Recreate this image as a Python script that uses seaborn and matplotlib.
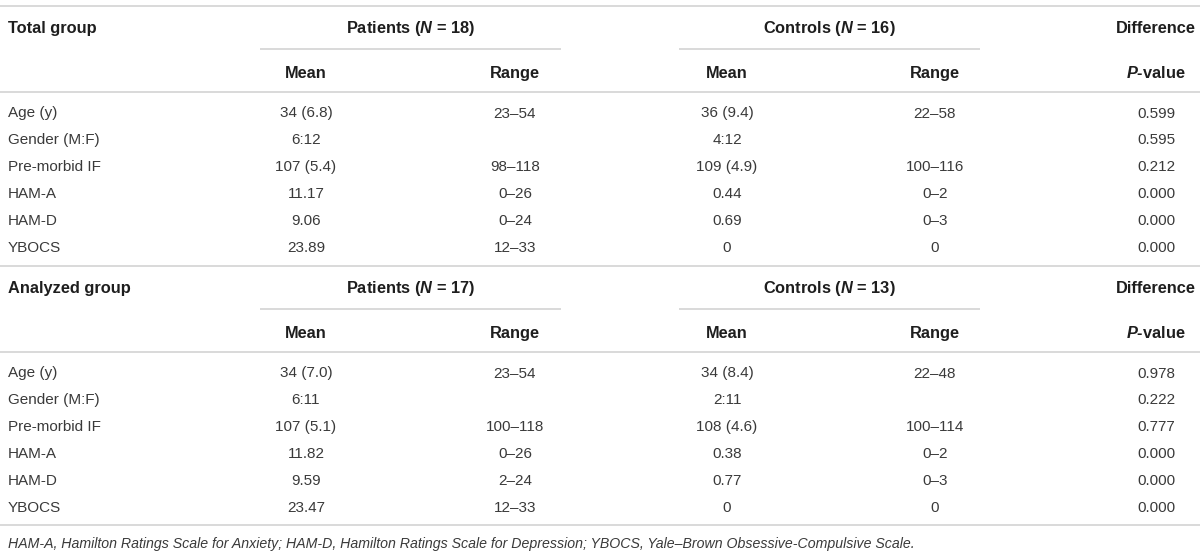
import matplotlib
matplotlib.use("Agg")
import matplotlib.pyplot as plt
import seaborn as sns
import pandas as pd

row_labels = ["Age (y)", "Gender (M:F)", "Pre-morbid IF", "HAM-A", "HAM-D", "YBOCS"]

# Total group
total_pat_n = 18
total_con_n = 16
total_pat_mean = ["34 (6.8)", "6:12", "107 (5.4)", "11.17", "9.06", "23.89"]
total_pat_range = ["23–54", "", "98–118", "0–26", "0–24", "12–33"]
total_con_mean = ["36 (9.4)", "4:12", "109 (4.9)", "0.44", "0.69", "0"]
total_con_range = ["22–58", "", "100–116", "0–2", "0–3", "0"]
total_p = ["0.599", "0.595", "0.212", "0.000", "0.000", "0.000"]

# Analyzed group
anal_pat_n = 17
anal_con_n = 13
anal_pat_mean = ["34 (7.0)", "6:11", "107 (5.1)", "11.82", "9.59", "23.47"]
anal_pat_range = ["23–54", "", "100–118", "0–26", "2–24", "12–33"]
anal_con_mean = ["34 (8.4)", "2:11", "108 (4.6)", "0.38", "0.77", "0"]
anal_con_range = ["22–48", "", "100–114", "0–2", "0–3", "0"]
anal_p = ["0.978", "0.222", "0.777", "0.000", "0.000", "0.000"]

footnote = ("HAM-A, Hamilton Ratings Scale for Anxiety; HAM-D, Hamilton Ratings Scale "
            "for Depression; YBOCS, Yale–Brown Obsessive-Compulsive Scale.")

sns.set_theme(style="white")
plt.rcParams["font.family"] = ["Liberation Sans", "DejaVu Sans"]
plt.rcParams["mathtext.fontset"] = "custom"
plt.rcParams["mathtext.it"] = "Liberation Sans:italic:bold"
plt.rcParams["mathtext.rm"] = "Liberation Sans:bold"

LINE = "#d9d9d9"
HEAD = "#1e1e1e"
BODY = "#3a3a3a"
BODY_FS = 11
HEAD_FS = 11.8
NOTE_FS = 10.2
BODY_OFF = 5.5   # centre -> baseline, pixels
HEAD_OFF = 5.9

# column centres (pixels)
col_x = {"pm": 306, "pr": 515, "cm": 727, "cr": 935, "p": 1156}


def head(ax, x, y, s, ha="center"):
    ax.text(x, y + HEAD_OFF, s, ha=ha, va="baseline", fontsize=HEAD_FS,
            fontweight="bold", color=HEAD)


def draw_section(ax, top, title, pat_n, con_n, pm, pr, cm, cr, pv, rule_bottom):
    hy = top + 22
    head(ax, 8, hy, title, ha="left")
    head(ax, (260 + 561) / 2, hy, f"Patients ($N$ = {pat_n})")
    head(ax, (679 + 980) / 2, hy, f"Controls ($N$ = {con_n})")
    head(ax, col_x["p"], hy, "Difference")
    ax.hlines(top + 44, 260, 561, color=LINE, lw=1.4)
    ax.hlines(top + 44, 679, 980, color=LINE, lw=1.4)

    sy = top + 67
    for key, lab in [("pm", "Mean"), ("pr", "Range"), ("cm", "Mean"), ("cr", "Range")]:
        head(ax, col_x[key], sy, lab)
    head(ax, col_x["p"], sy, "$P$-value")
    ax.hlines(top + 87, 0, 1200, color=LINE, lw=1.4)

    df = pd.DataFrame({"label": row_labels, "pm": pm, "pr": pr, "cm": cm,
                       "cr": cr, "p": pv})
    ys = [top + 107 + 26.8 * i for i in range(len(df))]
    for y, (_, r) in zip(ys, df.iterrows()):
        ax.text(8, y + BODY_OFF, r["label"], ha="left", va="baseline",
                fontsize=BODY_FS, color=BODY)
        for key in ["pm", "pr", "cm", "cr", "p"]:
            ax.text(col_x[key], y + BODY_OFF, r[key], ha="center", va="baseline",
                    fontsize=BODY_FS, color=BODY)
    ax.hlines(rule_bottom, 0, 1200, color=LINE, lw=1.4)


fig = plt.figure(figsize=(12, 5.56), dpi=100)
ax = fig.add_axes([0, 0, 1, 1])
ax.set_xlim(0, 1200)
ax.set_ylim(556, 0)
ax.axis("off")

ax.hlines(5.5, 0, 1200, color=LINE, lw=1.4)
draw_section(ax, 5, "Total group", total_pat_n, total_con_n, total_pat_mean,
             total_pat_range, total_con_mean, total_con_range, total_p, 265.5)
draw_section(ax, 265, "Analyzed group", anal_pat_n, anal_con_n, anal_pat_mean,
             anal_pat_range, anal_con_mean, anal_con_range, anal_p, 525)

ax.text(8, 543 + 5, footnote, ha="left", va="baseline", fontsize=NOTE_FS,
        style="italic", color=BODY)

fig.savefig("out.png", dpi=100, facecolor="white")
